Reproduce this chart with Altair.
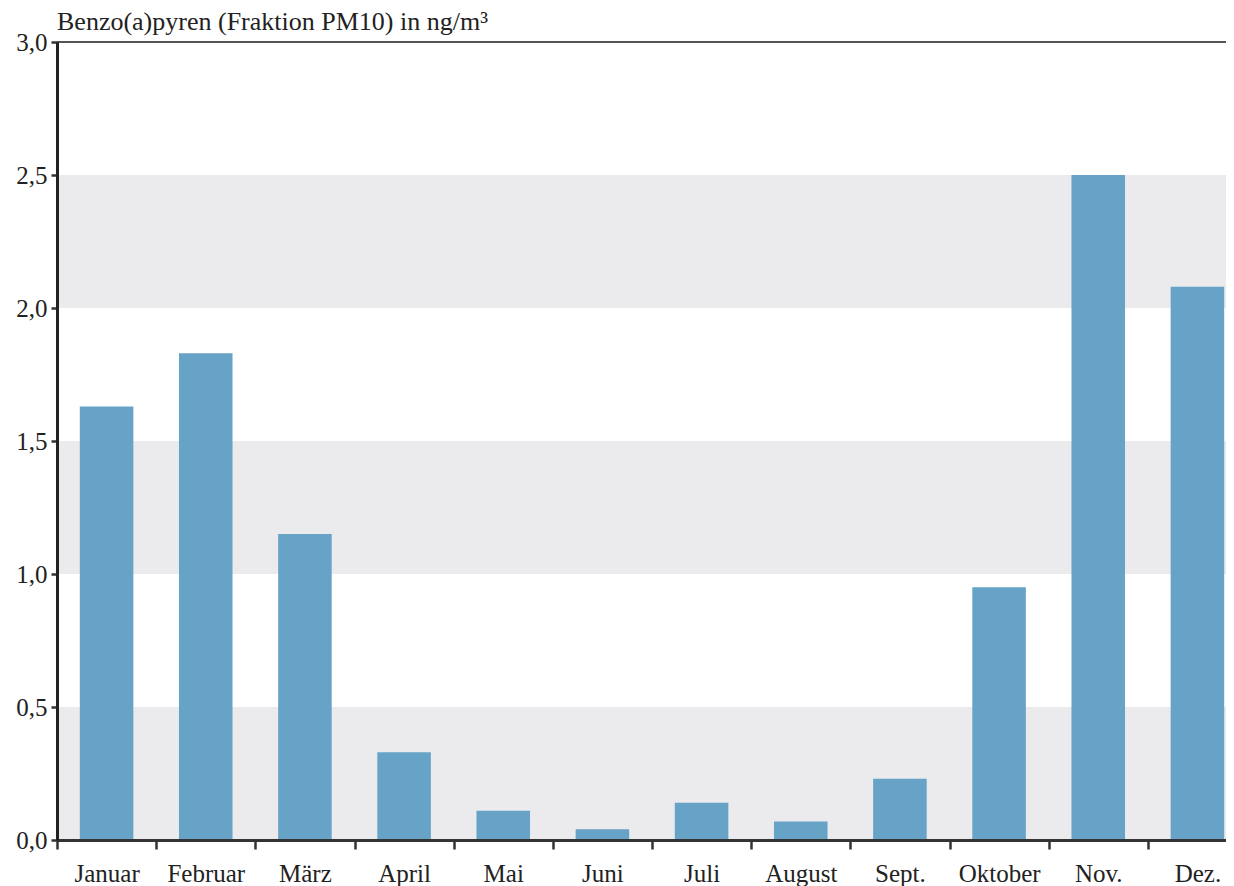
import altair as alt
import pandas as pd

months = ["Januar", "Februar", "März", "April", "Mai", "Juni",
          "Juli", "August", "Sept.", "Oktober", "Nov.", "Dez."]
values = [1.63, 1.83, 1.15, 0.33, 0.11, 0.04, 0.14, 0.07, 0.23, 0.95, 2.50, 2.08]
band_lo = [0.0, 1.0, 2.0]
band_hi = [0.5, 1.5, 2.5]
y_ticks = [0.0, 0.5, 1.0, 1.5, 2.0, 2.5, 3.0]
top_line = [3.0]
title_text = "Benzo(a)pyren (Fraktion PM10) in ng/m³"

FONT = "Liberation Serif"
FS = 25
W_RANGE = 1190
STEP = W_RANGE / 12.0
ysc = alt.Scale(domain=[0, 3], nice=False, zero=True)

y_axis = alt.Axis(title=None, values=y_ticks, grid=False,
                  labelExpr="replace(format(datum.value, '.1f'), '.', ',')",
                  tickSize=6, tickWidth=2.5, tickColor="#333333",
                  domainColor="#222222", domainWidth=3,
                  labelFont=FONT, labelFontSize=FS, labelColor="#222222",
                  labelPadding=4, zindex=1)

bars_df = pd.DataFrame({"Monat": months, "Wert": values})
bands_df = pd.DataFrame({"lo": band_lo, "hi": band_hi})
top_df = pd.DataFrame({"y": top_line})

bands = alt.Chart(bands_df).mark_rect(color="#ebebed").encode(
    x=alt.value(0), x2=alt.value(W_RANGE),
    y=alt.Y("lo:Q", scale=ysc, axis=y_axis), y2="hi:Q")

top = alt.Chart(top_df).mark_rule(color="#555555", strokeWidth=2).encode(
    x=alt.value(0), x2=alt.value(W_RANGE),
    y=alt.Y("y:Q", scale=ysc, axis=y_axis))

bars = alt.Chart(bars_df).mark_bar(color="#66a3c7").encode(
    x=alt.X("Monat:N", sort=months,
            scale=alt.Scale(range=[0, W_RANGE], paddingInner=0.46, paddingOuter=0.23),
            axis=alt.Axis(title=None, labelAngle=0, tickSize=9,
                          tickOffset=-STEP / 2, labelOffset=STEP / 2,
                          tickWidth=2.5, tickColor="#333333", domainColor="#333333",
                          domainWidth=3, labelFont=FONT, labelFontSize=FS,
                          labelColor="#222222", labelPadding=12, zindex=1)),
    y=alt.Y("Wert:Q", scale=ysc, axis=y_axis))

chart = alt.layer(bands, top, bars).properties(
    width=1169, height=798,
    title=alt.TitleParams(title_text, anchor="start", frame="group", font=FONT,
                          fontSize=26, fontWeight="normal", color="#222222",
                          offset=-5),
    autosize=alt.AutoSizeParams(type="none"),
    padding={"left": 49, "top": 34, "right": 0, "bottom": 46},
).configure_view(stroke=None).configure_axis(grid=False)

chart.save("out.html", embed_options={"renderer": "svg", "actions": False})
